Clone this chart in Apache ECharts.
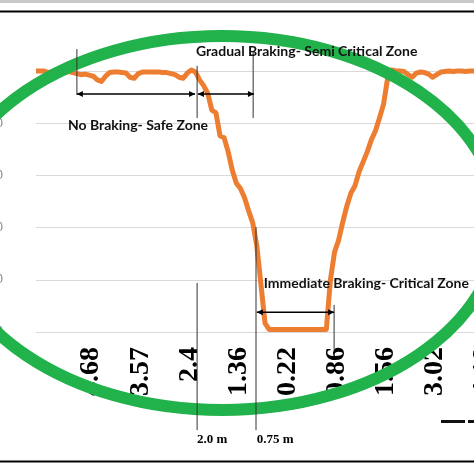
<!DOCTYPE html>
<html>
<head>
<meta charset="utf-8">
<script src="https://cdn.jsdelivr.net/npm/echarts@6/dist/echarts.min.js"></script>
<style>
html,body{margin:0;padding:0;background:#fff;}
#chart{width:474px;height:474px;}
</style>
</head>
<body>
<div id="chart"></div>
<script>
// ---- data ----
const xTickPositions = [13.5, 25.5, 37.5, 49.5, 61.5, 73.5, 85.5, 97.5, 109.5];
const xTickLabels = ['4.68', '3.57', '2.4', '1.36', '0.22', '0.86', '1.56', '3.02', '4.18'];
const yTickLabels = ['0', '50', '100', '150', '200', ''];
const depthValues = [
  5.0, 5.0, 5.0, 4.97, 4.98, 5.0, 5.0, 4.97, 4.99, 4.97,
  4.95, 4.93, 4.94, 4.92, 4.9, 4.83, 4.8, 4.9, 4.97, 4.98,
  4.98, 4.97, 4.96, 4.88, 4.86, 4.95, 4.98, 4.98, 4.98, 4.98,
  4.98, 4.97, 4.97, 4.95, 4.93, 4.88, 4.86, 4.96, 5.02, 4.98,
  4.83, 4.72, 4.57, 4.25, 4.2, 3.76, 3.72, 3.45, 3.1, 2.85,
  2.75, 2.57, 2.32, 2.09, 1.65, 0.92, 0.17, 0.05, 0.05, 0.05,
  0.05, 0.05, 0.05, 0.05, 0.05, 0.05, 0.05, 0.05, 0.05, 0.05,
  0.05, 0.05, 1.0, 1.53, 1.76, 2.1, 2.41, 2.66, 2.8, 3.07,
  3.26, 3.45, 3.68, 3.85, 4.1, 4.37, 4.87, 5.02, 5.0, 5.0,
  4.99, 4.93, 4.88, 4.96, 4.98, 4.97, 4.94, 4.88, 4.93, 4.98,
  4.99, 5.0, 4.99, 5.0, 5.0, 4.99, 5.0, 5.0, 5.0
];

// annotations in data coordinates [index, value]
const vLines = [
  [[10.0, 5.42], [10.0, 4.54]],
  [[39.4, 5.10], [39.4, 4.10]],
  [[53.1, 5.36], [53.1, 4.10]],
  [[39.4, 0.94], [39.4, -1.88]],
  [[53.8, 2.01], [53.8, -1.88]],
  [[72.9, 0.52], [72.9, -0.34]]
];
const arrows = [
  [[10.0, 4.56], [38.9, 4.56]],
  [[39.6, 4.56], [53.3, 4.56]],
  [[54.0, 0.38], [72.9, 0.38]]
];
const zoneTexts = [
  {text: 'Gradual Braking- Semi Critical Zone', at: [39.1, 5.38]},
  {text: 'No Braking- Safe Zone', at: [7.8, 3.95]},
  {text: 'Immediate Braking- Critical Zone', at: [55.7, 0.92]}
];
const distTexts = [
  {text: '2.0 m', at: [39.4, -2.07]},
  {text: '0.75 m', at: [54.0, -2.07]}
];

const chart = echarts.init(document.getElementById('chart'), null, {renderer: 'canvas'});

chart.setOption({
  animation: false,
  backgroundColor: '#fff',
  grid: {left: 36, top: 71, bottom: 142, right: -20, containLabel: false, outerBoundsMode: 'none'},
  xAxis: {
    type: 'value', min: 0, max: 112,
    axisLine: {show: false}, axisTick: {show: false}, splitLine: {show: false},
    axisLabel: {
      customValues: xTickPositions,
      rotate: 90, margin: 15,
      fontFamily: 'Liberation Serif', fontWeight: 'bold', fontSize: 28, color: '#000',
      formatter: function (v) {
        const k = xTickPositions.indexOf(v);
        return k >= 0 ? xTickLabels[k] : '';
      }
    }
  },
  yAxis: {
    type: 'value', min: 0, max: 5, interval: 1,
    axisLine: {show: false}, axisTick: {show: false},
    splitLine: {lineStyle: {color: '#d9d9d9', width: 1.2}},
    axisLabel: {
      margin: 33, fontSize: 12, color: '#808080',
      formatter: function (v) { return yTickLabels[Math.round(v)]; }
    }
  },
  series: [{
    type: 'line',
    data: depthValues.map((v, i) => [i, v]),
    showSymbol: false,
    clip: false,
    lineStyle: {color: '#ED7D31', width: 5, join: 'round'}
  }]
});

function px(p) { return chart.convertToPixel({gridIndex: 0}, p); }

const g = [];
// frame
g.push({type: 'rect', shape: {x: 0, y: 0, width: 474, height: 3}, style: {fill: '#c8c8c8'}, z: 50});
g.push({type: 'line', shape: {x1: 0, y1: 11.5, x2: 474, y2: 11.5}, style: {stroke: '#000', lineWidth: 1.8}, z: 50});
g.push({type: 'line', shape: {x1: 0, y1: 461.5, x2: 474, y2: 461.5}, style: {stroke: '#000', lineWidth: 1.8}, z: 50});
g.push({type: 'rect', shape: {x: 441, y: 420, width: 24, height: 3}, style: {fill: '#111'}, z: 50});
g.push({type: 'rect', shape: {x: 468, y: 420, width: 6, height: 3}, style: {fill: '#111'}, z: 50});
// green ellipse
g.push({type: 'ellipse', shape: {cx: 222, cy: 223, rx: 277, ry: 187},
  style: {fill: 'none', stroke: '#22B24C', lineWidth: 12}, z: 100});

vLines.forEach(l => {
  const a = px(l[0]), b = px(l[1]);
  g.push({type: 'line', shape: {x1: a[0], y1: a[1], x2: b[0], y2: b[1]},
    style: {stroke: '#333', lineWidth: 1}, z: 110});
});
arrows.forEach(l => {
  const a = px(l[0]), b = px(l[1]);
  g.push({type: 'line', shape: {x1: a[0], y1: a[1], x2: b[0], y2: b[1]},
    style: {stroke: '#000', lineWidth: 1.5}, z: 110});
  g.push({type: 'polygon', shape: {points: [[a[0], a[1]], [a[0] + 6, a[1] - 3], [a[0] + 6, a[1] + 3]]},
    style: {fill: '#000'}, z: 110});
  g.push({type: 'polygon', shape: {points: [[b[0], b[1]], [b[0] - 6, b[1] - 3], [b[0] - 6, b[1] + 3]]},
    style: {fill: '#000'}, z: 110});
});
zoneTexts.forEach(t => {
  const p = px(t.at);
  g.push({type: 'text', x: p[0], y: p[1], z: 120,
    style: {text: t.text, fill: '#111', font: 'bold 14px Lato', textAlign: 'left', textVerticalAlign: 'middle'}});
});
distTexts.forEach(t => {
  const p = px(t.at);
  g.push({type: 'text', x: p[0], y: p[1], z: 120,
    style: {text: t.text, fill: '#000', font: 'bold 13px "Liberation Serif"', textAlign: 'left', textVerticalAlign: 'middle'}});
});

chart.setOption({graphic: g});
</script>
</body>
</html>
